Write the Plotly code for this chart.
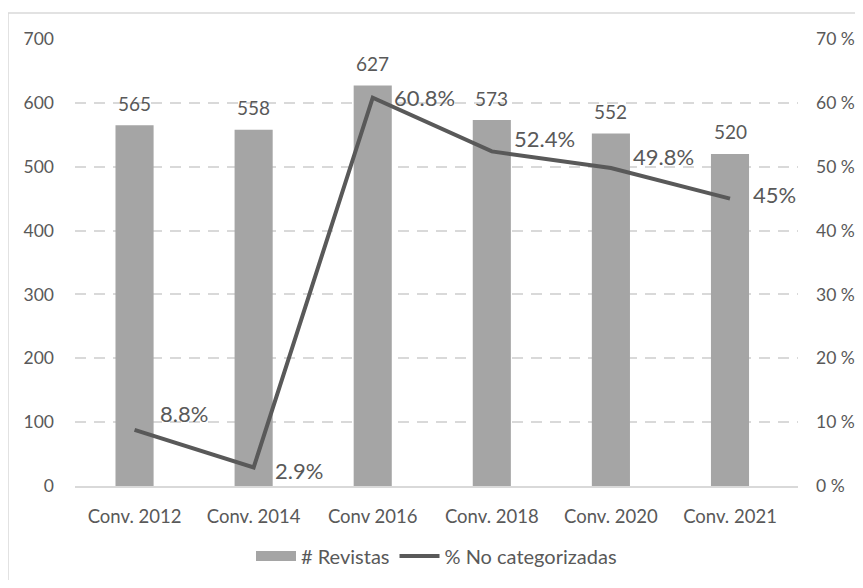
import plotly.graph_objects as go

categories = ["Conv. 2012", "Conv. 2014", "Conv 2016", "Conv. 2018", "Conv. 2020", "Conv. 2021"]
revistas = [565, 558, 627, 573, 552, 520]
no_categorizadas = [8.8, 2.9, 60.8, 52.4, 49.8, 45.0]
line_labels = ["8.8%", "2.9%", "60.8%", "52.4%", "49.8%", "45%"]
line_label_xshift = [23, 19, 19, 20, 20, 21]
line_label_yshift = [16, -3, 0, 13, 11, 4]
left_ticks = [0, 100, 200, 300, 400, 500, 600, 700]
right_ticks = [0, 10, 20, 30, 40, 50, 60, 70]
right_tick_text = ["0 %", "10 %", "20 %", "30 %", "40 %", "50 %", "60 %", "70 %"]

TXT = "#595959"
FONT = "Lato"

W, H = 847, 572
L, T = 67, 31
PW, PH = 723, 447

fig = go.Figure()
fig.add_trace(go.Bar(x=categories, y=revistas, name="# Revistas", showlegend=False,
                     marker=dict(color="#A5A5A5", line=dict(width=0)),
                     width=0.32))
fig.add_trace(go.Scatter(x=[None], y=[None], name="# Revistas", mode="lines",
                         line=dict(color="#A5A5A5", width=12), hoverinfo="skip"))
fig.add_trace(go.Scatter(x=categories, y=no_categorizadas, name="% No categorizadas",
                         yaxis="y2", mode="lines",
                         line=dict(color="#595959", width=4)))

annotations = []
for c, v in zip(categories, revistas):
    annotations.append(dict(x=c, y=v, xref="x", yref="y", text=str(v), showarrow=False,
                            xanchor="center", yanchor="middle", yshift=22,
                            font=dict(family=FONT, size=19, color=TXT)))
for c, v, t, xs, ys in zip(categories, no_categorizadas, line_labels,
                           line_label_xshift, line_label_yshift):
    annotations.append(dict(x=c, y=v, xref="x", yref="y2", text=t, showarrow=False,
                            xanchor="left", yanchor="middle", xshift=xs, yshift=ys,
                            font=dict(family=FONT, size=22, color=TXT)))

fig.update_layout(
    width=W, height=H,
    margin=dict(l=L, r=W - L - PW, t=T, b=H - T - PH, autoexpand=False),
    paper_bgcolor="white", plot_bgcolor="white",
    font=dict(family=FONT, size=18, color=TXT),
    showlegend=True,
    legend=dict(orientation="h", x=0.5, xanchor="center",
                y=-(548 - (T + PH)) / PH, yanchor="middle",
                font=dict(family=FONT, size=20, color=TXT), itemwidth=40),
    xaxis=dict(showgrid=False, showline=True, linecolor="#D9D9D9", linewidth=2,
               ticks="", ticklabelstandoff=13, tickfont=dict(size=18.5), automargin=False),
    yaxis=dict(range=[0, 700], tickvals=left_ticks, showgrid=True,
               gridcolor="#D9D9D9", griddash="11px,8px", gridwidth=1.8,
               zeroline=False, ticks="", ticklabelstandoff=20, tickfont=dict(size=17.5),
               automargin=False),
    yaxis2=dict(range=[0, 70], tickvals=right_ticks, ticktext=right_tick_text,
                overlaying="y", side="right", showgrid=False, zeroline=False, ticks="",
                ticklabelstandoff=17, tickfont=dict(size=17.5), automargin=False),
    annotations=annotations,
    shapes=[dict(type="rect", xref="paper", yref="paper",
                 x0=(0 - L) / PW, x1=(W + 10 - L) / PW,
                 y0=(T + PH - (H + 10)) / PH, y1=1 + (T - 5) / PH,
                 line=dict(color="#D9D9D9", width=1.5), layer="below")],
)

fig.write_html("out.html")
